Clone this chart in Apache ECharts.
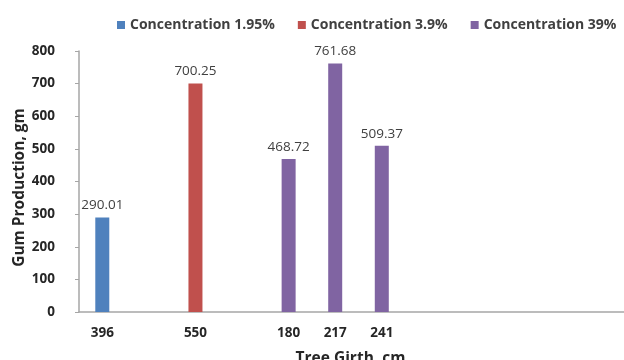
<!DOCTYPE html>
<html>
<head>
<meta charset="utf-8">
<script src="https://cdn.jsdelivr.net/npm/echarts@6/dist/echarts.min.js"></script>
<style>
  html, body { margin: 0; padding: 0; background: #fff; }
  #chart { width: 624px; height: 360px; }
</style>
</head>
<body>
<div id="chart"></div>
<script>
// Tree girth categories (blank slots keep the groups apart)
const girths = ['396', '', '550', '', '180', '217', '241', '', '', '', '', ''];
const seriesNames = ['Concentration 1.95%', 'Concentration 3.9%', 'Concentration 39%'];
// Gum production (gm) per girth slot, one array per concentration
const conc195 = [290.01, null, null, null, null, null, null, null, null, null, null, null];
const conc39a = [null, null, 700.25, null, null, null, null, null, null, null, null, null];
const conc39b = [null, null, null, null, 468.72, 761.68, 509.37, null, null, null, null, null];
const yTicks = { min: 0, max: 800, interval: 100 };

const colors = ['#4F81BD', '#C0504D', '#8064A2'];
const font = '"Open Sans", "Liberation Sans", sans-serif';

function barSeries(name, data, color) {
  return {
    name: name,
    type: 'bar',
    data: data,
    barWidth: 14,
    barGap: '-100%',
    itemStyle: { color: color },
    label: {
      show: true,
      position: 'top',
      distance: 5,
      color: '#404040',
      fontFamily: font,
      fontSize: 13.5,
      formatter: p => p.value.toFixed(2)
    }
  };
}

const chart = echarts.init(document.getElementById('chart'), null, { renderer: 'canvas' });
chart.setOption({
  animation: false,
  color: colors,
  textStyle: { fontFamily: font },
  legend: {
    data: seriesNames,
    left: 112,
    top: 13,
    itemWidth: 8,
    itemHeight: 8,
    itemGap: 23,
    icon: 'rect',
    textStyle: { fontFamily: font, fontSize: 14, fontWeight: 'bold', color: '#404040' }
  },
  grid: { left: 79, right: -14, top: 51, bottom: 48, outerBoundsMode: 'none', containLabel: false },
  xAxis: {
    type: 'category',
    data: girths,
    name: 'Tree Girth, cm',
    nameLocation: 'middle',
    nameGap: 39,
    nameMoveOverlap: false,
    nameTextStyle: { fontFamily: font, fontSize: 15.5, fontWeight: 'bold', color: '#262626', padding: [0, 16, 0, 0] },
    axisLine: { lineStyle: { color: '#a6a6a6', width: 1.5 } },
    axisTick: { show: false },
    axisLabel: { interval: 0, margin: 14, fontFamily: font, fontSize: 13.5, fontWeight: 'bold', color: '#262626' }
  },
  yAxis: {
    type: 'value',
    min: yTicks.min,
    max: yTicks.max,
    interval: yTicks.interval,
    name: 'Gum Production, gm',
    nameLocation: 'middle',
    nameGap: 51,
    nameMoveOverlap: false,
    nameTextStyle: { fontFamily: font, fontSize: 15.5, fontWeight: 'bold', color: '#262626', padding: [0, 12, 0, 0] },
    splitLine: { show: false },
    axisLine: { show: true, lineStyle: { color: '#a6a6a6', width: 1.5 } },
    axisTick: { show: true, length: 4, lineStyle: { color: '#a6a6a6' } },
    axisLabel: { margin: 24, fontFamily: font, fontSize: 13.5, fontWeight: 'bold', color: '#262626' }
  },
  series: [
    barSeries(seriesNames[0], conc195, colors[0]),
    barSeries(seriesNames[1], conc39a, colors[1]),
    barSeries(seriesNames[2], conc39b, colors[2])
  ]
});
</script>
</body>
</html>
